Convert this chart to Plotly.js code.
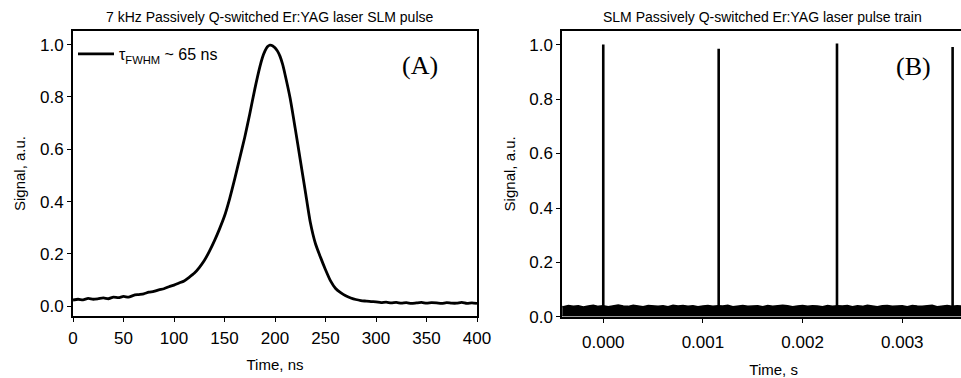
<!DOCTYPE html>
<html>
<head>
<meta charset="utf-8">
<script src="https://cdn.plot.ly/plotly-3.0.1.min.js"></script>
<style>
html,body{margin:0;padding:0;overflow:hidden;background:#fff;}
#plot{width:1000px;height:378px;}
</style>
</head>
<body>
<div id="plot"></div>
<script>
// ---- Panel A: single SLM pulse (time in ns, normalised signal) ----
const pulseTime = [0,5,10,15,20,25,30,35,40,45,50,55,60,65,70,75,80,85,90,95,
  100,105,110,115,120,125,130,135,140,145,150,155,160,165,170,175,180,185,187.5,190,192.5,195,197.5,
  200,202.5,205,207.5,210,215,220,225,230,235,240,245,250,255,260,265,270,275,280,285,290,295,
  300,305,310,315,320,325,330,335,340,345,350,355,360,365,370,375,380,385,390,395,400];
const pulseSignal = [0.024,0.027,0.025,0.030,0.027,0.029,0.032,0.029,0.035,0.033,
  0.038,0.035,0.042,0.045,0.048,0.054,0.057,0.063,0.067,0.075,
  0.081,0.089,0.097,0.111,0.126,0.148,0.175,0.210,0.250,0.295,
  0.345,0.410,0.485,0.565,0.645,0.735,0.830,0.915,0.950,0.975,0.992,0.998,0.996,
  0.988,0.975,0.955,0.925,0.885,0.795,0.680,0.560,0.440,0.320,0.240,0.188,
  0.140,0.097,0.068,0.052,0.040,0.032,0.026,0.022,0.020,0.018,
  0.017,0.014,0.016,0.013,0.015,0.012,0.014,0.011,0.013,0.015,
  0.012,0.014,0.013,0.011,0.014,0.012,0.012,0.015,0.011,0.013,0.011];

// ---- Panel B: pulse train (time in s) ----
const trainPulseTimes = [0.0, 0.001158, 0.002345, 0.003505];
const trainPulseHeights = [1.0, 0.985, 1.004, 0.991];
const trainBaseline = 0.03;
const bandTime = [-0.00045,-0.0004,-0.00035,-0.0003,-0.00025,-0.0002,-0.00015,-0.0001,-0.00005,0.0,
  0.00005,0.0001,0.00015,0.0002,0.00025,0.0003,0.00035,0.0004,0.00045,0.0005,
  0.00055,0.0006,0.00065,0.0007,0.00075,0.0008,0.00085,0.0009,0.00095,0.001,
  0.00105,0.0011,0.00115,0.0012,0.00125,0.0013,0.00135,0.0014,0.00145,0.0015,
  0.00155,0.0016,0.00165,0.0017,0.00175,0.0018,0.00185,0.0019,0.00195,0.002,
  0.00205,0.0021,0.00215,0.0022,0.00225,0.0023,0.00235,0.0024,0.00245,0.0025,
  0.00255,0.0026,0.00265,0.0027,0.00275,0.0028,0.00285,0.0029,0.00295,0.003,
  0.00305,0.0031,0.00315,0.0032,0.00325,0.0033,0.00335,0.0034,0.00345,0.0035,
  0.00355,0.0036,0.00365,0.0037,0.00375,0.0038,0.00385,0.0039];
const bandUpper = [0.040,0.038,0.042,0.039,0.041,0.037,0.040,0.043,0.039,0.041,
  0.038,0.042,0.044,0.040,0.039,0.043,0.041,0.038,0.042,0.040,
  0.039,0.041,0.038,0.043,0.040,0.042,0.039,0.041,0.038,0.040,
  0.042,0.039,0.041,0.040,0.043,0.038,0.041,0.042,0.039,0.040,
  0.041,0.038,0.042,0.039,0.040,0.043,0.041,0.038,0.040,0.042,
  0.039,0.041,0.040,0.038,0.042,0.039,0.041,0.040,0.042,0.038,
  0.041,0.039,0.043,0.040,0.038,0.041,0.042,0.039,0.040,0.041,
  0.038,0.042,0.040,0.039,0.041,0.043,0.038,0.040,0.042,0.039,
  0.041,0.040,0.038,0.042,0.040,0.041,0.039,0.040];
const bandLower = bandTime.map(() => 0.004);

// build the vertical pulse strokes from the data arrays
const trainX = [], trainY = [];
trainPulseTimes.forEach((t, i) => {
  trainX.push(t, t, null);
  trainY.push(trainBaseline, trainPulseHeights[i], null);
});

const SANS = 'Liberation Sans, Arial, sans-serif';
const SERIF = 'Liberation Serif, Times New Roman, serif';

const traces = [
  {x: pulseTime, y: pulseSignal, type: 'scatter', mode: 'lines',
   name: '\u03C4<sub>FWHM</sub> ~ 65 ns', line: {color: '#000', width: 2.8, shape: 'spline', smoothing: 0.6},
   xaxis: 'x', yaxis: 'y', showlegend: true},
  {x: bandTime, y: bandLower, type: 'scatter', mode: 'lines',
   line: {color: '#000', width: 1}, xaxis: 'x2', yaxis: 'y2', showlegend: false},
  {x: bandTime, y: bandUpper, type: 'scatter', mode: 'lines', fill: 'tonexty',
   fillcolor: '#000', line: {color: '#000', width: 1.5}, xaxis: 'x2', yaxis: 'y2', showlegend: false},
  {x: trainX, y: trainY, type: 'scatter', mode: 'lines',
   line: {color: '#000', width: 2.6}, xaxis: 'x2', yaxis: 'y2', showlegend: false}
];

const axBase = {
  showgrid: false, zeroline: false, showline: true, linecolor: '#000', linewidth: 2,
  mirror: true, ticks: 'outside', ticklen: 4, tickwidth: 1, tickcolor: '#000',
  tickfont: {family: SANS, size: 17, color: '#000'}, automargin: false
};

const layout = {
  width: 1000, height: 378,
  margin: {l: 0, r: 0, t: 0, b: 0},
  paper_bgcolor: '#fff', plot_bgcolor: '#fff',
  font: {family: SANS, color: '#000'},
  xaxis: Object.assign({}, axBase, {
    domain: [0.073, 0.477], range: [0, 400], dtick: 50, tick0: 0,
    anchor: 'y', ticklabelstandoff: 2,
    title: {text: 'Time, ns', font: {family: SANS, size: 15, color: '#000'}, standoff: 12}
  }),
  yaxis: Object.assign({}, axBase, {
    domain: [0.164, 0.918], range: [-0.037, 1.052], dtick: 0.2, tick0: 0,
    tickformat: '.1f', anchor: 'x',
    title: {text: 'Signal, a.u.', font: {family: SANS, size: 15, color: '#000'}, standoff: 11}
  }),
  xaxis2: Object.assign({}, axBase, {
    domain: [0.5623, 0.985], range: [-0.000411, 0.00383], dtick: 0.001, tick0: 0,
    tickformat: '.3f', anchor: 'y2', ticklabelstandoff: 5,
    title: {text: 'Time, s', font: {family: SANS, size: 15, color: '#000'}, standoff: 13}
  }),
  yaxis2: Object.assign({}, axBase, {
    domain: [0.1614, 0.9188], range: [0, 1.051], dtick: 0.2, tick0: 0,
    tickformat: '.1f', anchor: 'x2',
    title: {text: 'Signal, a.u.', font: {family: SANS, size: 15, color: '#000'}, standoff: 10}
  }),
  showlegend: true,
  legend: {x: 0.073, y: 0.902, xanchor: 'left', yanchor: 'top',
    bgcolor: 'rgba(0,0,0,0)', borderwidth: 0, itemwidth: 36,
    font: {family: SANS, size: 16, color: '#000'}},
  annotations: [
    {text: '7 kHz Passively Q-switched Er:YAG laser SLM pulse', xref: 'paper', yref: 'paper',
     x: 0.27, y: (378 - 17) / 378, xanchor: 'center', yanchor: 'middle', showarrow: false,
     font: {family: SANS, size: 14, color: '#000'}},
    {text: 'SLM Passively Q-switched Er:YAG laser pulse train', xref: 'paper', yref: 'paper',
     x: 0.7625, y: (378 - 17) / 378, xanchor: 'center', yanchor: 'middle', showarrow: false,
     font: {family: SANS, size: 14, color: '#000'}},
    {text: '(A)', xref: 'paper', yref: 'paper', x: 0.42, y: (378 - 65) / 378,
     xanchor: 'center', yanchor: 'middle', showarrow: false,
     font: {family: SERIF, size: 26, color: '#000'}},
    {text: '(B)', xref: 'paper', yref: 'paper', x: 0.913, y: (378 - 67) / 378,
     xanchor: 'center', yanchor: 'middle', showarrow: false,
     font: {family: SERIF, size: 26, color: '#000'}}
  ]
};

Plotly.newPlot('plot', traces, layout, {displayModeBar: false, staticPlot: true});
</script>
</body>
</html>
